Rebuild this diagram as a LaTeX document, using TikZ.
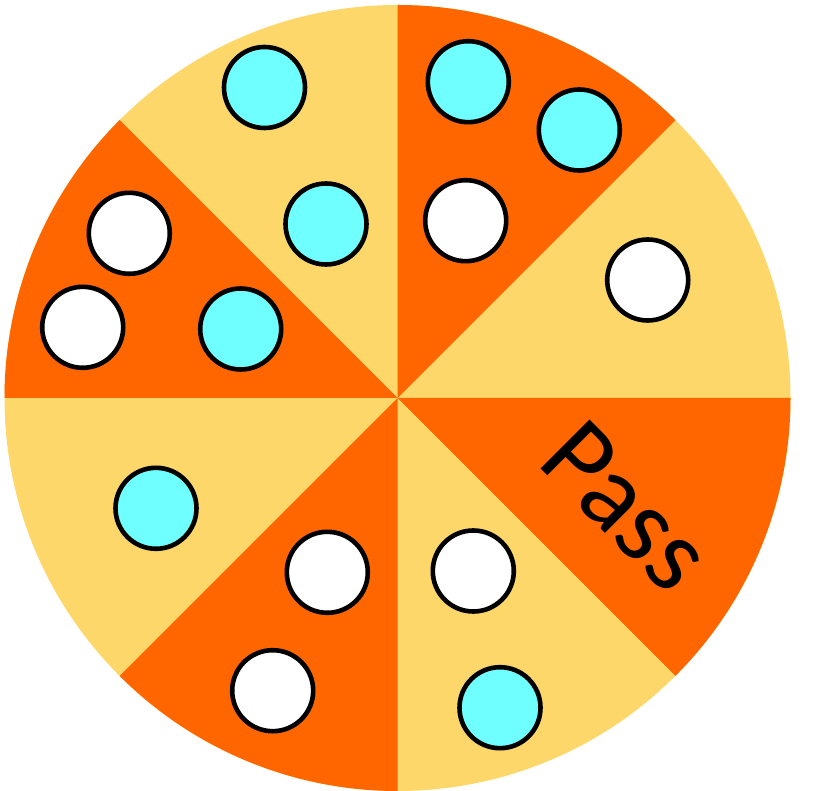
\documentclass[tikz,border=0pt]{standalone}
\usepackage{fontspec}
\setmainfont{Carlito}
\definecolor{wheelorange}{HTML}{FF6600}
\definecolor{wheelyellow}{HTML}{FDD76A}
\definecolor{chipcyan}{HTML}{70FFFF}
\begin{document}
\begin{tikzpicture}[x=1pt, y=1pt,
  chip/.style={circle,draw=black,line width=4.6pt,minimum size=81pt,inner sep=0pt},
  cyanchip/.style={chip,fill=chipcyan},
  whitechip/.style={chip,fill=white}]
  \useasboundingbox (0,0) rectangle (816,790);
  \coordinate (hub) at (397.5,392);
  % wheel: yellow disc, four orange slices
  \fill[wheelyellow] (hub) circle (393);
  \fill[wheelorange] (hub) -- ++(45:393) arc (45:90:393) -- cycle;
  \fill[wheelorange] (hub) -- ++(-45:393) arc (-45:0:393) -- cycle;
  \fill[wheelorange] (hub) -- ++(-135:393) arc (-135:-90:393) -- cycle;
  \fill[wheelorange] (hub) -- ++(135:393) arc (135:180:393) -- cycle;
  % chips
  \node[cyanchip] (c1) at (264.5,702.5) {};
  \node[cyanchip] (c2) at (468.3,708.3) {};
  \node[cyanchip] (c3) at (579.3,660) {};
  \node[cyanchip] (c4) at (326,566) {};
  \node[cyanchip] (c5) at (240.7,461) {};
  \node[cyanchip] (c6) at (156,281.7) {};
  \node[cyanchip] (c7) at (500,82.3) {};
  \node[whitechip] (w1) at (129.3,556.7) {};
  \node[whitechip] (w2) at (82.7,462.7) {};
  \node[whitechip] (w3) at (465.7,569.3) {};
  \node[whitechip] (w4) at (647.7,510) {};
  \node[whitechip] (w5) at (327.3,217.7) {};
  \node[whitechip] (w6) at (473.3,219) {};
  \node[whitechip] (w7) at (272.7,99.3) {};
  \node[rotate=-45,font=\fontsize{108}{108}\selectfont,inner sep=0pt] (pass) at (626.5,284) {Pass};
\end{tikzpicture}
\end{document}
